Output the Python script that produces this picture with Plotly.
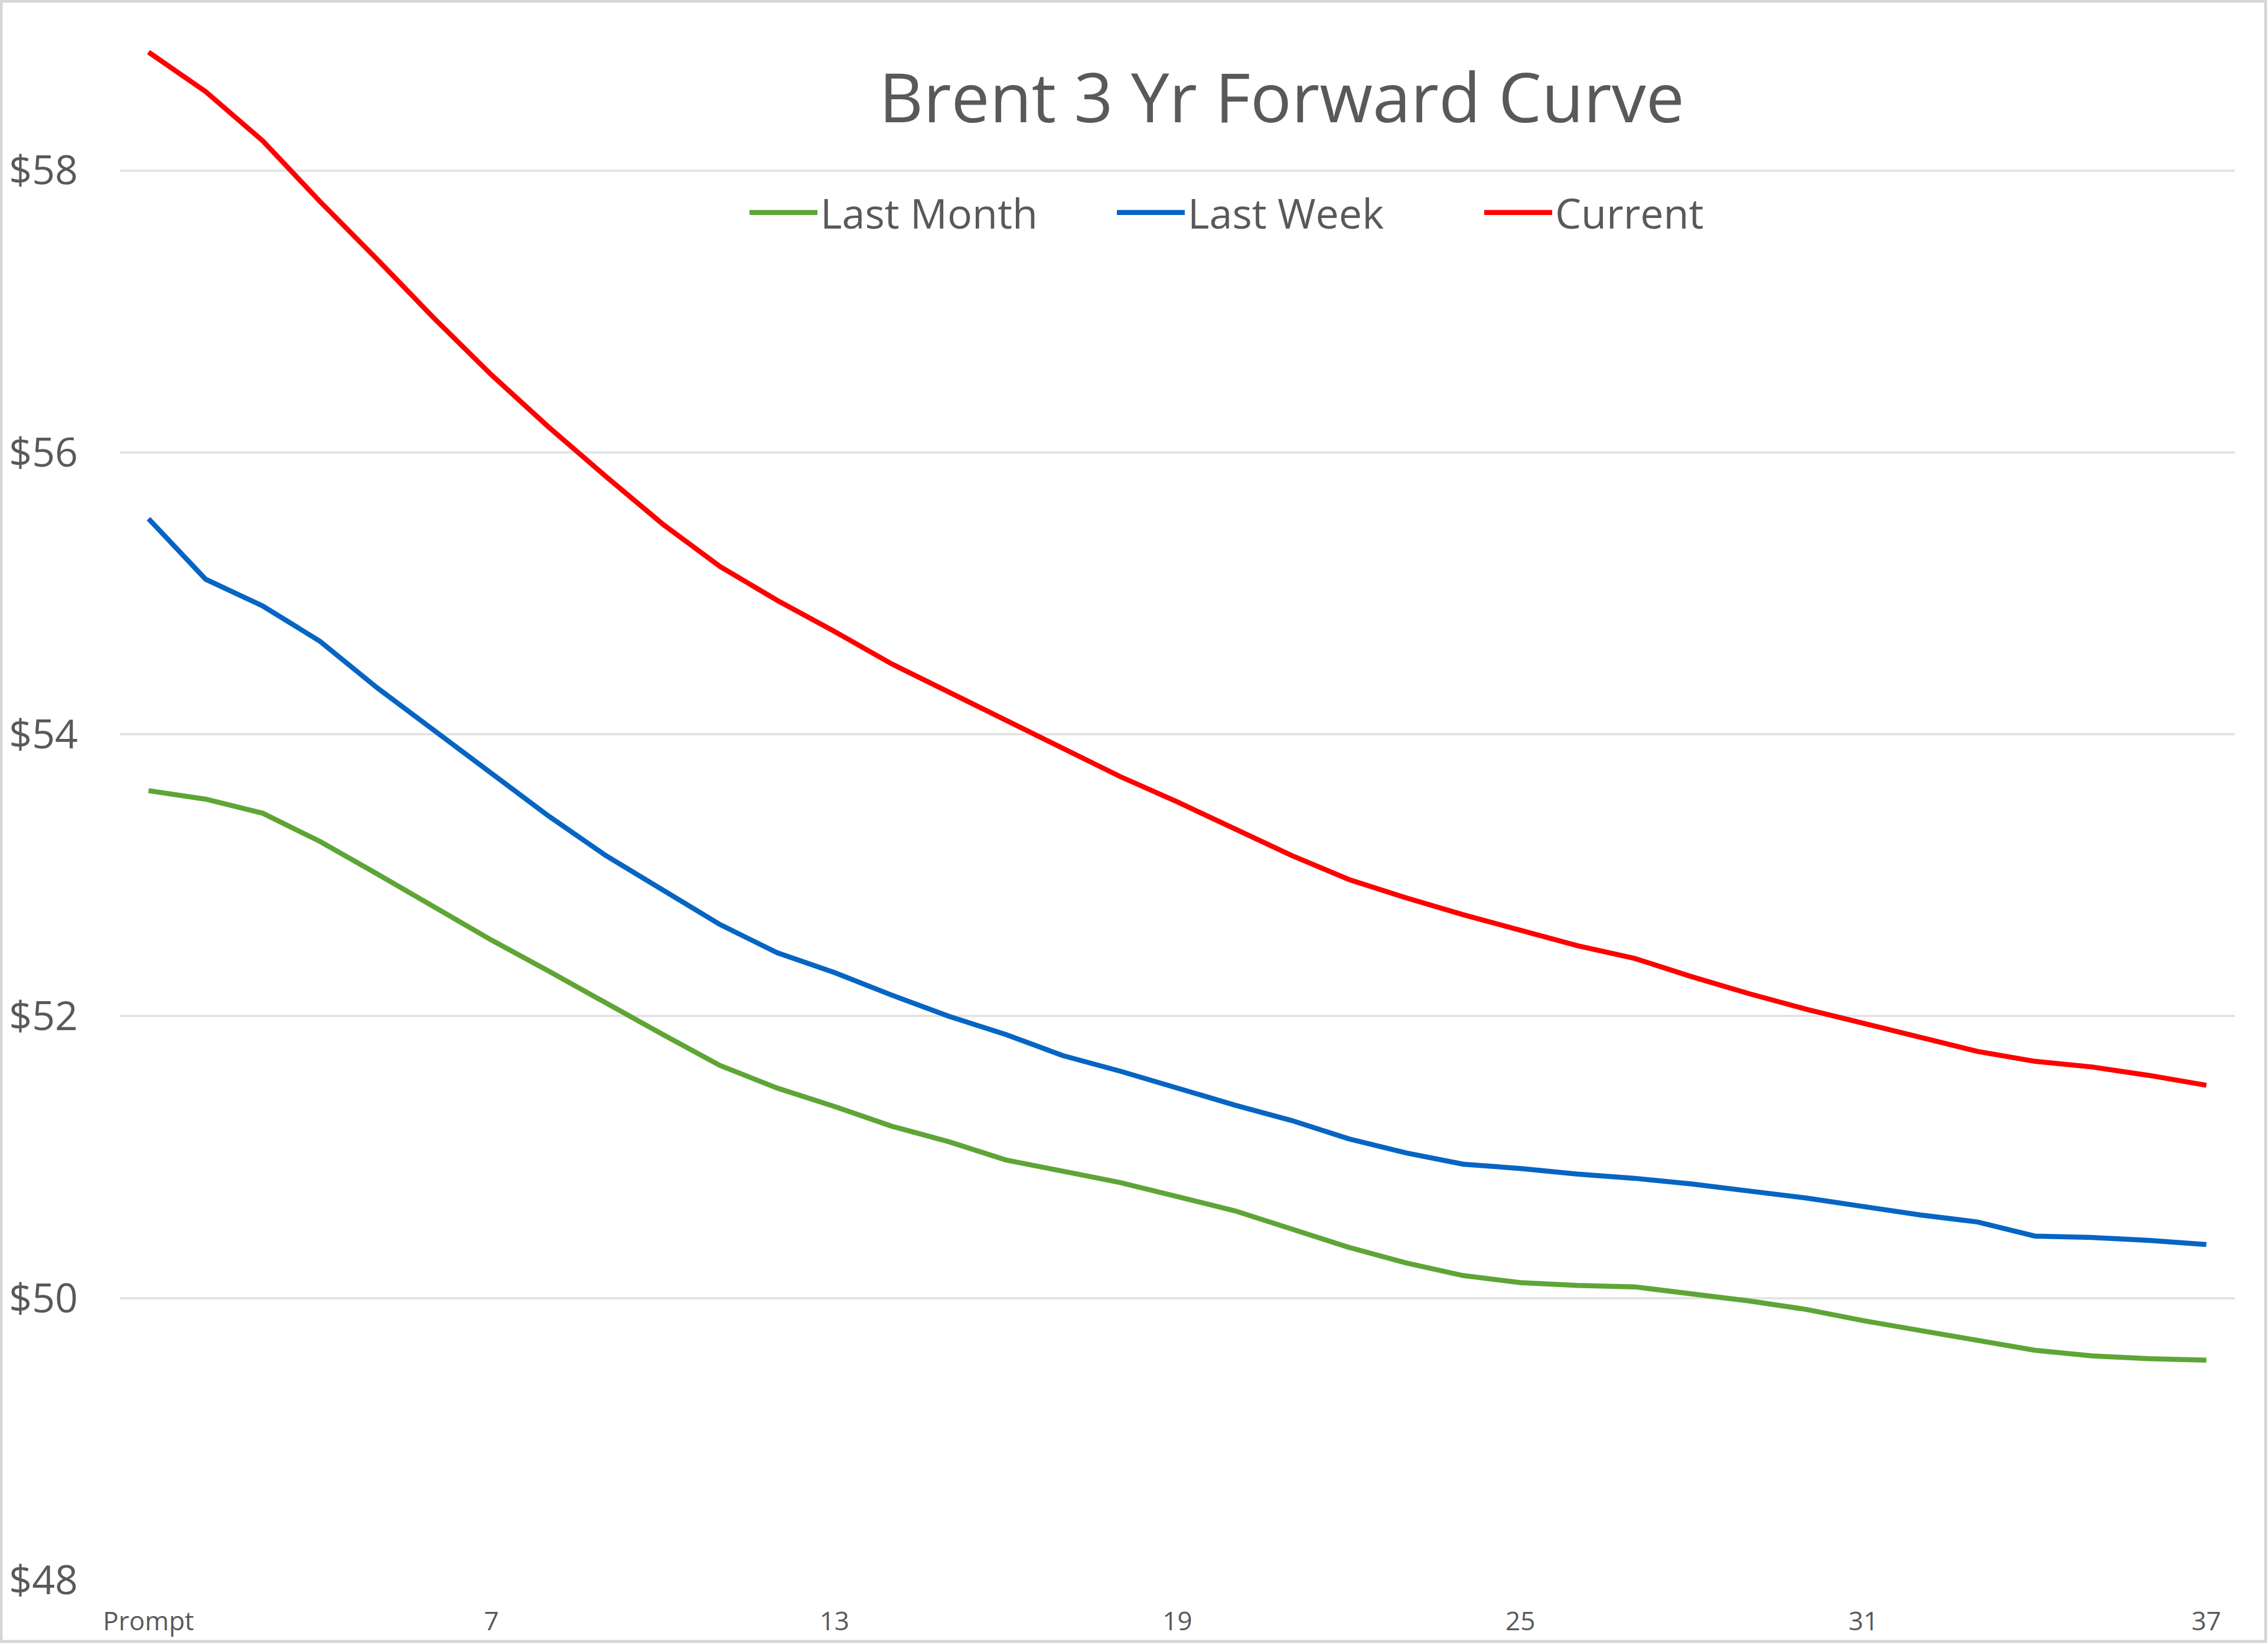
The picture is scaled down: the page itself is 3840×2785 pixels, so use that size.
import plotly.graph_objects as go

# ---- data ----
contract_month = [1, 2, 3, 4, 5, 6, 7, 8, 9, 10, 11, 12, 13, 14, 15, 16, 17, 18, 19,
                  20, 21, 22, 23, 24, 25, 26, 27, 28, 29, 30, 31, 32, 33, 34, 35, 36, 37]

last_month = [53.60, 53.54, 53.44, 53.24, 53.01, 52.77, 52.54, 52.32, 52.09, 51.87,
              51.65, 51.49, 51.36, 51.22, 51.11, 50.98, 50.90, 50.82, 50.72, 50.62,
              50.49, 50.36, 50.25, 50.16, 50.11, 50.09, 50.08, 50.03, 49.98, 49.92,
              49.84, 49.77, 49.70, 49.63, 49.59, 49.57, 49.56]

last_week = [55.53, 55.10, 54.91, 54.66, 54.33, 54.03, 53.72, 53.42, 53.14, 52.89,
             52.65, 52.45, 52.31, 52.15, 52.00, 51.87, 51.72, 51.61, 51.49, 51.37,
             51.26, 51.13, 51.03, 50.95, 50.92, 50.88, 50.85, 50.81, 50.76, 50.71,
             50.65, 50.59, 50.54, 50.44, 50.43, 50.41, 50.38]

current = [58.84, 58.56, 58.21, 57.78, 57.37, 56.95, 56.55, 56.18, 55.83, 55.49,
           55.19, 54.95, 54.73, 54.50, 54.30, 54.10, 53.90, 53.70, 53.52, 53.33,
           53.14, 52.97, 52.84, 52.72, 52.61, 52.50, 52.41, 52.28, 52.16, 52.05,
           51.95, 51.85, 51.75, 51.68, 51.64, 51.58, 51.51]

tick_months = [1, 7, 13, 19, 25, 31, 37]
tick_labels = ["Prompt", "7", "13", "19", "25", "31", "37"]

series_names = ["Last Month", "Last Week", "Current"]
series_colors = ["#5EA536", "#0665C3", "#FF0000"]

# ---- layout geometry (pixels) ----
W, H = 3840, 2785
PL, PR, PT, PB = 203, 3784, 50, 2677
FONT = "Segoe UI, Open Sans, sans-serif"
TEXT = "#595959"

fig = go.Figure()
for name, ys, col in zip(series_names, [last_month, last_week, current], series_colors):
    fig.add_trace(go.Scatter(x=contract_month, y=ys, name=name, mode="lines",
                             line=dict(color=col, width=8.5)))

pw, ph = PR - PL, PB - PT
def px_x(v):
    return (v - PL) / pw
def px_y(v):
    return (PB - v) / ph

fig.update_layout(
    width=W, height=H,
    margin=dict(l=PL, r=W - PR, t=PT, b=H - PB, pad=0),
    paper_bgcolor="white", plot_bgcolor="white",
    font=dict(family=FONT, color=TEXT),
    title=dict(text="Brent 3 Yr Forward Curve", x=2170 / W, xanchor="center",
               y=1 - 166 / H, yanchor="middle",
               font=dict(family=FONT, size=116, color=TEXT)),
    showlegend=True,
    legend=dict(orientation="h", x=px_x(1264), xanchor="left",
                y=px_y(360), yanchor="middle",
                font=dict(family=FONT, size=70, color=TEXT),
                itemwidth=115, entrywidth=492, entrywidthmode="pixels",
                bgcolor="rgba(0,0,0,0)", traceorder="normal"),
    xaxis=dict(range=[0.5, 37.5], tickmode="array", tickvals=tick_months,
               ticktext=tick_labels, showgrid=False, zeroline=False,
               showline=False, ticks="", ticklabelstandoff=40,
               tickfont=dict(family=FONT, size=44, color=TEXT), fixedrange=True),
    yaxis=dict(range=[48, 59], dtick=2, tick0=48, tickprefix="$",
               showgrid=True, gridcolor="#E4E4E4", gridwidth=4,
               zeroline=False, showline=False, ticks="", ticklabelstandoff=70,
               tickfont=dict(family=FONT, size=68, color=TEXT), fixedrange=True),
    shapes=[dict(type="rect", xref="paper", yref="paper",
                 x0=px_x(2), x1=px_x(3836), y0=px_y(2781), y1=px_y(2),
                 line=dict(color="#D6D6D6", width=5), fillcolor="rgba(0,0,0,0)",
                 layer="below")],
)

fig.write_html("out.html", config={"displayModeBar": False},
               post_script="document.body.style.margin='0';document.body.style.overflow='hidden';")
